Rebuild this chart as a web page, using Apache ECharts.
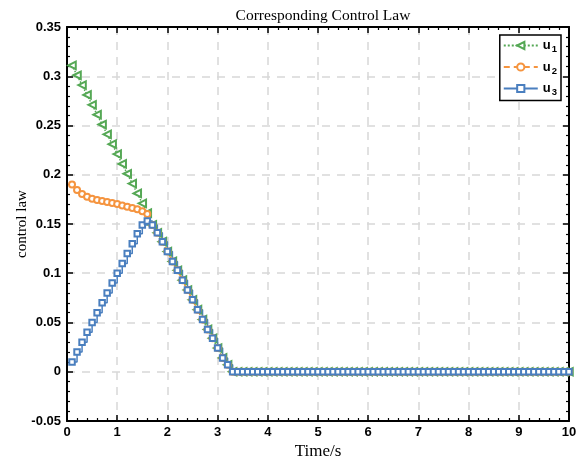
<!DOCTYPE html>
<html>
<head>
<meta charset="utf-8">
<script src="https://cdn.jsdelivr.net/npm/echarts@6/dist/echarts.min.js"></script>
<style>html,body{margin:0;padding:0;background:#fff;}#c{width:576px;height:465px;}</style>
</head>
<body>
<div id="c"></div>
<script>
// Time samples (s)
const time = [0.1,0.2,0.3,0.4,0.5,0.6,0.7,0.8,0.9,1.0,
  1.1,1.2,1.3,1.4,1.5,1.6,1.7,1.8,1.9,2.0,
  2.1,2.2,2.3,2.4,2.5,2.6,2.7,2.8,2.9,3.0,
  3.1,3.2,3.3,3.4,3.5,3.6,3.7,3.8,3.9,4.0,
  4.1,4.2,4.3,4.4,4.5,4.6,4.7,4.8,4.9,5.0,
  5.1,5.2,5.3,5.4,5.5,5.6,5.7,5.8,5.9,6.0,
  6.1,6.2,6.3,6.4,6.5,6.6,6.7,6.8,6.9,7.0,
  7.1,7.2,7.3,7.4,7.5,7.6,7.7,7.8,7.9,8.0,
  8.1,8.2,8.3,8.4,8.5,8.6,8.7,8.8,8.9,9.0,
  9.1,9.2,9.3,9.4,9.5,9.6,9.7,9.8,9.9,10.0];
// t = 0.1 .. 1.6 (separate parts)
const u1Head = [0.311,0.301,0.291,0.281,0.271,0.261,0.251,0.241,0.231,0.221,0.211,0.201,0.191,0.181,0.171,0.161];
const u2Head = [0.190,0.1845,0.1805,0.1777,0.1757,0.1743,0.1733,0.1723,0.1713,0.1702,0.1689,0.1676,0.1662,0.1649,0.1630,0.1601];
const u3Head = [0.010,0.020,0.030,0.040,0.050,0.060,0.070,0.080,0.090,0.100,0.110,0.120,0.130,0.140,0.149,0.153];
// t = 1.7 .. 3.2 (common part)
const descent = [0.149,0.141,0.132,0.122,0.112,0.103,0.093,0.083,0.073,0.063,0.053,0.043,0.034,0.024,0.014,0.007];
// t = 3.3 .. 10.0
const tail = [0,0,0,0,0,0,0,0,0,0,0,0,0,0,0,0,0,0,0,0,
  0,0,0,0,0,0,0,0,0,0,0,0,0,0,0,0,0,0,0,0,
  0,0,0,0,0,0,0,0,0,0,0,0,0,0,0,0,0,0,0,0,
  0,0,0,0,0,0,0,0];
const xTicks = [0,1,2,3,4,5,6,7,8,9,10];
const yTicks = [-0.05,0,0.05,0.1,0.15,0.2,0.25,0.3,0.35];

const u1 = u1Head.concat(descent, tail);
const u2 = u2Head.concat(descent, tail);
const u3 = u3Head.concat(descent, tail);
const pairs = arr => time.map((t, i) => [t, arr[i]]);

const GREEN = '#55a855', ORANGE = '#f5943f', BLUE = '#4a7fbf';
const tickFont = {fontFamily:'Liberation Sans', fontWeight:'bold', fontSize:13, color:'#000'};
const frameLine = {show:true, onZero:false, lineStyle:{color:'#000', width:2}};
const tick = {show:true, inside:true, length:6, lineStyle:{color:'#000', width:1.5}};
const minor = {show:true, splitNumber:5, length:3, lineStyle:{color:'#000', width:1.2}};
const grid = {show:true, lineStyle:{color:'#d8d8d8', width:1.5, type:[8,7]}};

const chart = echarts.init(document.getElementById('c'), null, {renderer:'canvas'});
chart.setOption({
  animation:false,
  backgroundColor:'#fff',
  title:{text:'Corresponding Control Law', left:318, top:3, textAlign:'center',
    textStyle:{fontFamily:'Liberation Serif', fontWeight:'normal', fontSize:15.5, color:'#000'}},
  grid:{left:67, right:7, top:27, bottom:44, containLabel:false, outerBoundsMode:'none'},
  legend:{
    orient:'vertical', right:15, top:35, backgroundColor:'#fff', borderColor:'#000', borderWidth:1.5,
    padding:[4,4,3,3], itemWidth:34, itemHeight:9, itemGap:6,
    data:['u1','u2','u3'],
    formatter: n => '{b|u}{s|' + n.slice(1) + '}',
    textStyle:{color:'#000', rich:{
      b:{fontFamily:'Liberation Sans', fontWeight:'bold', fontSize:13, color:'#000'},
      s:{fontFamily:'Liberation Sans', fontWeight:'bold', fontSize:9.5, color:'#000', padding:[8,0,0,1]}
    }}
  },
  xAxis:[
    {type:'value', min:xTicks[0], max:xTicks[xTicks.length-1], interval:1, position:'bottom',
      name:'Time/s', nameLocation:'middle', nameGap:22, nameMoveOverlap:false,
      nameTextStyle:{fontFamily:'Liberation Serif', fontSize:17, color:'#000'},
      axisLine:frameLine, axisTick:tick, minorTick:minor, splitLine:grid,
      axisLabel:Object.assign({margin:5}, tickFont)},
    {type:'value', min:xTicks[0], max:xTicks[xTicks.length-1], interval:1, position:'top',
      axisLine:frameLine, axisTick:tick, minorTick:minor, splitLine:{show:false}, axisLabel:{show:false}}
  ],
  yAxis:[
    {type:'value', min:yTicks[0], max:yTicks[yTicks.length-1], interval:0.05, position:'left',
      name:'control law', nameLocation:'middle', nameGap:37, nameMoveOverlap:false,
      nameTextStyle:{fontFamily:'Liberation Serif', fontSize:15, color:'#000'},
      axisLine:frameLine, axisTick:tick, minorTick:minor, splitLine:grid,
      axisLabel:Object.assign({margin:6, formatter:v => String(+v.toFixed(2))}, tickFont)},
    {type:'value', min:yTicks[0], max:yTicks[yTicks.length-1], interval:0.05, position:'right',
      axisLine:frameLine, axisTick:tick, minorTick:minor, splitLine:{show:false}, axisLabel:{show:false}}
  ],
  series:[
    {name:'u1', type:'line', data:pairs(u1), xAxisIndex:0, yAxisIndex:0,
      symbol:'emptyTriangle', symbolSize:7.5, symbolRotate:90,
      lineStyle:{color:GREEN, width:1.5, type:'dotted'}, itemStyle:{color:GREEN, borderWidth:1.3}},
    {name:'u2', type:'line', data:pairs(u2), xAxisIndex:0, yAxisIndex:0,
      symbol:'emptyCircle', symbolSize:6,
      lineStyle:{color:ORANGE, width:1.5, type:[6,4]}, itemStyle:{color:ORANGE, borderWidth:1.3}},
    {name:'u3', type:'line', data:pairs(u3), xAxisIndex:0, yAxisIndex:0, step:'end',
      symbol:'emptyRect', symbolSize:5.5,
      lineStyle:{color:BLUE, width:1.5}, itemStyle:{color:BLUE, borderWidth:1.4}}
  ]
});
</script>
</body>
</html>
